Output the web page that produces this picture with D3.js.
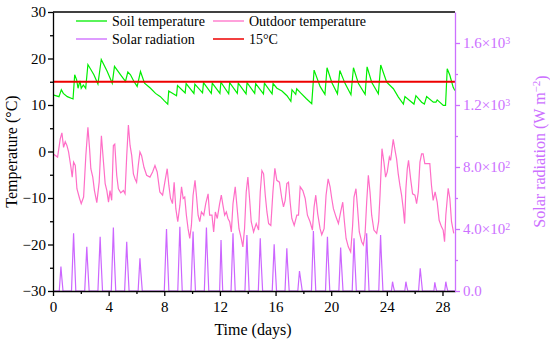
<!DOCTYPE html>
<html>
<head>
<meta charset="utf-8">
<script src="https://cdn.jsdelivr.net/npm/d3@7"></script>
<style>
  body { margin: 0; background: #fff; }
  svg text { font-family: "Liberation Serif", "Times New Roman", serif; }
</style>
</head>
<body>
<div id="chart"></div>
<script>
// soil temperature (°C), [day, value]
const soilTemp = [
  [0,12.2],[0.43,11.8],[0.6,13.3],[0.74,12.5],[1.03,11.8],[1.44,11.3],[1.56,16.5],[1.7,15.4],[1.8,13.6],
  [1.94,15.2],[2.03,13.6],[2.18,14.3],[2.35,13.6],[2.51,18.7],[2.94,16.5],[3.23,14.5],[3.47,19.8],[3.9,17.2],
  [4.26,14.7],[4.42,18.3],[4.86,16.5],[5.21,15.1],[5.38,17.1],[5.57,16.5],[5.81,15.1],[6.05,14.0],[6.29,17.2],
  [6.58,14.7],[7.01,13.6],[7.37,12.5],[7.72,11.8],[8.01,10.9],[8.25,10.2],
  [8.32,13.0],[8.88,12.0],[8.95,14.2],[9.5,12.6],[9.57,14.6],[10.13,12.5],[10.2,14.5],[10.75,12.6],
  [10.82,14.8],[11.38,12.5],[11.45,14.7],[12.0,12.5],[12.07,14.9],[12.63,12.4],[12.7,14.8],[13.25,12.5],
  [13.32,14.7],[13.88,12.4],[13.95,14.8],[14.5,12.5],[14.57,14.6],[15.13,12.4],[15.2,14.7],[15.75,12.4],
  [15.82,14.6],
  [16.1,13.6],[16.46,13.0],[16.82,12.0],[17.1,10.8],[17.18,13.3],[17.45,12.3],[17.52,13.5],[17.8,12.6],
  [18.2,11.4],[18.6,10.3],[18.77,17.5],[19.2,14.0],[19.55,12.3],[19.7,18.0],[20.05,14.8],[20.45,12.4],
  [20.62,17.4],[21.0,14.6],[21.42,12.2],[21.6,18.0],[21.96,14.6],[22.44,12.3],[22.58,18.2],[22.91,14.9],
  [23.39,12.4],[23.56,18.6],[23.99,14.9],[24.47,13.5],[24.83,11.7],[25.19,10.2],[25.3,11.8],[25.66,10.9],
  [25.95,10.2],[26.09,12.0],[26.5,10.6],[26.7,10.2],[26.86,11.8],[27.34,10.6],[27.53,10.6],[27.62,11.1],
  [28.06,9.9],[28.22,9.9],[28.34,17.8],[28.53,16.4],[28.77,13.8],[28.89,13.1]
];

// outdoor temperature (°C), [day, value]
const outdoorTemp = [
  [0,-0.5],[0.33,-1.2],[0.52,2.7],[0.64,4.0],[0.76,0.9],[0.88,2.1],[1.0,1.3],[1.12,-0.1],[1.29,-3.4],
  [1.38,-5.5],[1.48,-2.3],[1.6,-3.0],[1.72,-8.0],[1.91,-10.1],[2.03,-11.2],[2.2,-9.8],[2.36,-0.9],
  [2.51,5.2],[2.63,0.6],[2.72,-3.7],[2.86,-5.5],[2.98,-8.4],[3.15,-11.0],[3.32,-6.6],[3.48,3.4],
  [3.63,-2.3],[3.75,-6.9],[3.87,-8.4],[3.99,-10.9],[4.1,-8.4],[4.22,-10.5],[4.34,1.3],[4.44,1.6],
  [4.58,-5.1],[4.7,-8.0],[4.87,-8.9],[5.06,-8.4],[5.18,-9.1],[5.3,-0.9],[5.42,5.7],[5.54,1.3],
  [5.66,-0.9],[5.78,-4.8],[5.9,-5.9],[6.01,-6.6],[6.13,-3.0],[6.25,-0.1],[6.37,-0.9],[6.54,-3.4],
  [6.73,-5.1],[6.97,-5.5],[7.16,-4.4],[7.33,-3.0],[7.49,-4.4],[7.68,-8.7],[7.88,-9.4],[8.04,-6.6],
  [8.21,-3.7],[8.33,-7.3],[8.45,-10.1],[8.59,-11.2],[8.71,-6.6],[8.83,-12.3],[8.97,-15.1],[9.12,-11.6],
  [9.24,-7.6],[9.36,-10.1],[9.47,-9.8],[9.59,-13.7],[9.71,-16.6],[9.83,-18.7],[9.95,-15.9],[10.07,-9.4],
  [10.21,-6.2],[10.31,-9.4],[10.43,-13.7],[10.55,-15.1],[10.67,-13.0],[10.84,-13.7],[10.98,-11.2],
  [11.15,-9.1],[11.26,-13.7],[11.43,-13.7],[11.55,-17.3],[11.67,-13.0],[11.81,-14.4],[11.98,-11.2],
  [12.1,-9.4],[12.22,-11.6],[12.34,-13.7],[12.46,-13.0],[12.58,-14.4],[12.7,-15.1],[12.82,-17.3],
  [12.94,-11.2],[13.1,-7.6],[13.22,-11.6],[13.37,-16.6],[13.53,-18.7],[13.65,-20.5],[13.77,-16.6],
  [13.89,-8.7],[14.01,-5.5],[14.13,-10.1],[14.25,-15.1],[14.42,-17.3],[14.61,-15.5],[14.78,-16.9],
  [14.9,-8.7],[15.02,-4.1],[15.14,-4.8],[15.26,-9.4],[15.38,-13.0],[15.5,-15.5],[15.66,-15.9],
  [15.81,-8.7],[15.95,-3.6],[16.09,-6.2],[16.28,-6.6],[16.45,-10.1],[16.57,-11.9],[16.69,-10.5],
  [16.81,-6.9],[16.93,-6.6],[17.05,-10.9],[17.17,-14.4],[17.34,-15.9],[17.53,-13.7],[17.65,-13.7],
  [17.77,-7.6],[17.96,-8.4],[18.13,-10.1],[18.29,-13.7],[18.48,-15.1],[18.65,-16.9],[18.77,-11.9],
  [18.89,-9.4],[19.03,-13.4],[19.2,-16.6],[19.32,-17.9],[19.49,-16.6],[19.63,-9.4],[19.78,-5.9],
  [19.92,-7.6],[20.04,-10.1],[20.16,-12.3],[20.35,-14.1],[20.52,-15.5],[20.68,-13.0],[20.83,-10.9],
  [20.95,-15.1],[21.07,-18.7],[21.23,-20.5],[21.4,-21.6],[21.54,-15.9],[21.64,-9.8],[21.78,-8.0],
  [21.88,-11.6],[22.02,-17.3],[22.19,-19.4],[22.31,-20.1],[22.43,-18.0],[22.55,-10.9],[22.67,-5.1],
  [22.79,-8.7],[22.91,-13.7],[23.07,-16.9],[23.27,-17.6],[23.41,-15.1],[23.51,-9.4],[23.65,0.6],
  [23.79,-2.3],[23.91,-5.5],[24.03,-4.4],[24.18,-1.2],[24.27,-1.9],[24.46,2.6],[24.61,-0.1],
  [24.7,-1.6],[24.82,-4.8],[24.94,-7.3],[25.06,-9.4],[25.18,-12.3],[25.28,-15.5],[25.37,-8.0],
  [25.47,-3.7],[25.56,-1.9],[25.71,-5.9],[25.85,-9.1],[26.02,-9.4],[26.14,-11.2],[26.26,-8.7],
  [26.38,-2.3],[26.5,-0.5],[26.61,-0.5],[26.73,-2.6],[27.09,-2.6],[27.21,-7.3],[27.33,-10.5],
  [27.47,-8.7],[27.62,-10.9],[27.76,-14.8],[27.93,-16.2],[28.05,-16.9],[28.15,-19.4],[28.24,-13.7],
  [28.41,-7.9],[28.53,-10.1],[28.65,-15.1],[28.81,-17.6]
];

// solar radiation (W m-2), [day, value]
const solarRad = [
  [0,0],
  [0.45,0],[0.57,157],[0.62,100],[0.72,0],
  [1.33,0],[1.48,372],[1.53,250],[1.64,0],
  [2.28,0],[2.43,286],[2.48,190],[2.6,0],
  [3.23,0],[3.39,350],[3.44,230],[3.56,0],
  [4.19,0],[4.34,409],[4.39,260],[4.51,0],
  [5.15,0],[5.3,318],[5.35,210],[5.47,0],
  [6.12,0],[6.25,211],[6.3,140],[6.42,0],
  [8.0,0],[8.16,400],[8.21,270],[8.33,0],
  [8.97,0],[9.12,415],[9.17,280],[9.29,0],
  [9.92,0],[10.07,383],[10.12,250],[10.24,0],
  [10.88,0],[11.03,409],[11.08,270],[11.2,0],
  [11.98,0],[12.08,329],[12.12,200],[12.2,0],
  [12.8,0],[12.94,372],[12.99,240],[13.1,0],
  [13.8,0],[13.94,361],[13.99,240],[14.1,0],
  [14.76,0],[14.9,340],[14.95,220],[15.07,0],
  [15.76,0],[15.9,301],[15.95,200],[16.07,0],
  [16.68,0],[16.81,275],[16.86,180],[16.98,0],
  [17.6,0],[17.72,129],[17.78,90],[17.92,0],
  [18.58,0],[18.72,387],[18.77,260],[18.89,0],
  [19.59,0],[19.73,350],[19.78,230],[19.9,0],
  [20.55,0],[20.68,280],[20.73,190],[20.85,0],
  [21.51,0],[21.64,340],[21.69,220],[21.81,0],
  [22.42,0],[22.55,372],[22.6,250],[22.72,0],
  [23.42,0],[23.55,361],[23.6,240],[23.72,0],
  [24.33,0],[24.41,60],[24.47,30],[24.55,0],
  [25.29,0],[25.37,60],[25.43,30],[25.51,0],
  [26.28,0],[26.4,146],[26.46,90],[26.56,0],
  [27.38,0],[27.45,56],[27.5,30],[27.58,0],
  [28.16,0],[28.24,60],[28.3,30],[28.38,0],
  [28.9,0]
];

const refTemp = 15;

const xTicks = [0, 4, 8, 12, 16, 20, 24, 28];
const xMinorTicks = [2, 6, 10, 14, 18, 22, 26];
const yTicks = [-30, -20, -10, 0, 10, 20, 30];
const yMinorTicks = [-25, -15, -5, 5, 15, 25];
const solarTicks = [0, 400, 800, 1200, 1600];
const solarMinorTicks = [200, 600, 1000, 1400];
const solarTickLabels = [["0.0", ""], ["4.0×10", "2"], ["8.0×10", "2"], ["1.2×10", "3"], ["1.6×10", "3"]];

const legendItems = [
  {name: "Soil temperature", color: "#00ee00"},
  {name: "Outdoor temperature", color: "#ff6ec7"},
  {name: "Solar radiation", color: "#cc66ff"},
  {name: "15°C", color: "#ee0000"}
];

const W = 550, H = 345;
const margin = {top: 12, right: 95, bottom: 54, left: 53};
const axisViolet = "#cc70ff";

const svg = d3.select("#chart").append("svg")
    .attr("width", W)
    .attr("height", H);

const x = d3.scaleLinear().domain([0, 28.9]).range([margin.left, W - margin.right]);
const y = d3.scaleLinear().domain([-30, 30]).range([H - margin.bottom, margin.top]);
const ySolar = d3.scaleLinear().domain([0, 1800]).range([H - margin.bottom, margin.top]);

svg.append("clipPath").attr("id", "plotclip")
  .append("rect")
    .attr("x", margin.left).attr("y", margin.top)
    .attr("width", W - margin.right - margin.left)
    .attr("height", H - margin.bottom - margin.top);

const plot = svg.append("g").attr("clip-path", "url(#plotclip)");

// solar first so the temperature lines sit on top
plot.append("path")
    .datum(solarRad)
    .attr("fill", "none")
    .attr("stroke", legendItems[2].color)
    .attr("stroke-width", 1.2)
    .attr("d", d3.line().x(d => x(d[0])).y(d => ySolar(d[1])));

plot.append("path")
    .datum(outdoorTemp)
    .attr("fill", "none")
    .attr("stroke", legendItems[1].color)
    .attr("stroke-width", 1.2)
    .attr("d", d3.line().x(d => x(d[0])).y(d => y(d[1])));

plot.append("path")
    .datum(soilTemp)
    .attr("fill", "none")
    .attr("stroke", legendItems[0].color)
    .attr("stroke-width", 1.2)
    .attr("d", d3.line().x(d => x(d[0])).y(d => y(d[1])));

plot.append("line")
    .attr("x1", x(0)).attr("x2", x(28.9))
    .attr("y1", y(refTemp)).attr("y2", y(refTemp))
    .attr("stroke", legendItems[3].color)
    .attr("stroke-width", 1.8);

// top frame line
svg.append("line")
    .attr("x1", margin.left).attr("x2", W - margin.right)
    .attr("y1", margin.top).attr("y2", margin.top)
    .attr("stroke", "#000").attr("stroke-width", 1.3);

function styleAxis(g, color) {
  g.select(".domain").attr("stroke", color).attr("stroke-width", 1.3);
  g.selectAll(".tick line").attr("stroke", color).attr("stroke-width", 1.3);
  g.selectAll(".tick text").attr("fill", color).style("font-size", "15px")
    .style("font-family", "'Liberation Serif', 'Times New Roman', serif");
}

// bottom axis
const gx = svg.append("g")
    .attr("transform", `translate(0,${H - margin.bottom})`)
    .call(d3.axisBottom(x).tickValues(xTicks).tickSize(5).tickSizeOuter(0).tickPadding(5));
styleAxis(gx, "#000");
const gxm = svg.append("g")
    .attr("transform", `translate(0,${H - margin.bottom})`)
    .call(d3.axisBottom(x).tickValues(xMinorTicks).tickSize(3).tickFormat(""));
gxm.select(".domain").remove();
styleAxis(gxm, "#000");

// left axis
const gy = svg.append("g")
    .attr("transform", `translate(${margin.left},0)`)
    .call(d3.axisLeft(y).tickValues(yTicks).tickSize(5).tickSizeOuter(0).tickPadding(2));
styleAxis(gy, "#000");
const gym = svg.append("g")
    .attr("transform", `translate(${margin.left},0)`)
    .call(d3.axisLeft(y).tickValues(yMinorTicks).tickSize(3).tickFormat(""));
gym.select(".domain").remove();
styleAxis(gym, "#000");

// right axis (solar)
const gr = svg.append("g")
    .attr("transform", `translate(${W - margin.right},0)`)
    .call(d3.axisRight(ySolar).tickValues(solarTicks).tickSize(5).tickSizeOuter(0).tickPadding(3).tickFormat(""));
styleAxis(gr, axisViolet);
gr.selectAll(".tick text").each(function(d, i) {
  const t = d3.select(this);
  t.text(solarTickLabels[i][0]);
  if (solarTickLabels[i][1]) {
    t.append("tspan").attr("dy", "-0.45em").style("font-size", "10px").text(solarTickLabels[i][1]);
  }
});
const grm = svg.append("g")
    .attr("transform", `translate(${W - margin.right},0)`)
    .call(d3.axisRight(ySolar).tickValues(solarMinorTicks).tickSize(3).tickFormat(""));
grm.select(".domain").remove();
styleAxis(grm, axisViolet);

// axis titles
svg.append("text")
    .attr("x", (margin.left + W - margin.right) / 2 - 1)
    .attr("y", 335)
    .attr("text-anchor", "middle")
    .style("font-size", "16px")
    .text("Time (days)");

svg.append("text")
    .attr("transform", `translate(17,${(margin.top + H - margin.bottom) / 2}) rotate(-90)`)
    .attr("text-anchor", "middle")
    .style("font-size", "16px")
    .text("Temperature (°C)");

const rTitle = svg.append("text")
    .attr("transform", `translate(545,${(margin.top + H - margin.bottom) / 2}) rotate(-90)`)
    .attr("text-anchor", "middle")
    .attr("fill", axisViolet)
    .style("font-size", "16px");
rTitle.append("tspan").text("Solar radiation (W m");
rTitle.append("tspan").attr("dy", "-0.45em").style("font-size", "11px").text("−2");
rTitle.append("tspan").attr("dy", "0.45em").text(")");

// legend
const legendPos = [[76, 21], [213, 21], [76, 39], [213, 39]];
const lg = svg.append("g");
legendItems.forEach((item, i) => {
  const [lx, ly] = legendPos[i];
  lg.append("line")
      .attr("x1", lx).attr("x2", lx + 31)
      .attr("y1", ly).attr("y2", ly)
      .attr("stroke", item.color)
      .attr("stroke-width", i === 3 ? 1.5 : 1.3);
  lg.append("text")
      .attr("x", lx + 36)
      .attr("y", ly + 5)
      .style("font-size", "14px")
      .text(item.name);
});
</script>
</body>
</html>
